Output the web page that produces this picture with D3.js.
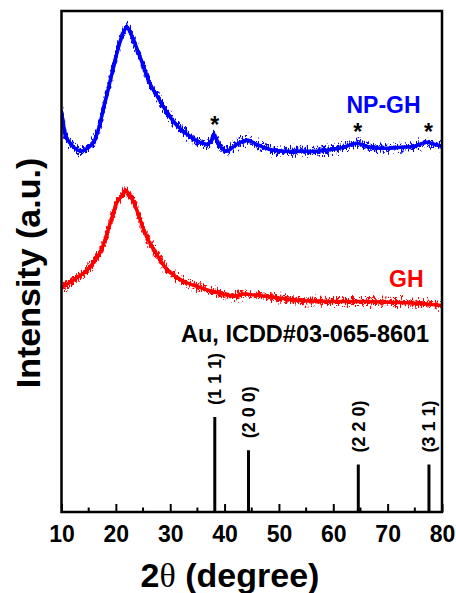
<!DOCTYPE html>
<html>
<head>
<meta charset="utf-8">
<script src="https://cdn.jsdelivr.net/npm/d3@7"></script>
<style>
  body { margin: 0; background: #fff; }
  svg { display: block; }
  text { font-family: "Liberation Sans", Arial, sans-serif; font-weight: bold; }
</style>
</head>
<body>
<div id="chart"></div>
<script>
// XRD patterns (intensity in arbitrary units)
let npghAngle = [10.0, 10.3, 10.6, 11.0, 11.6, 12.5, 13.5, 14.5, 15.4, 15.9, 16.8, 17.7, 18.6, 19.6, 20.4, 21.1, 21.7, 22.1, 22.6, 23.2, 23.9, 24.8, 25.7, 26.6, 27.6, 28.8, 30.0, 31.2, 32.4, 33.6, 34.9, 36.0, 36.8, 37.5, 38.0, 38.5, 39.2, 40.4, 41.5, 42.9, 44.4, 45.5, 47.2, 49.0, 50.8, 54.0, 57.0, 60.0, 61.9, 64.3, 65.5, 66.8, 70.0, 72.3, 75.0, 77.2, 78.5, 80.0]
let npghIntensity = [800, 778, 758, 745, 736, 726, 720, 724, 732, 738, 764, 804, 844, 890, 924, 950, 964, 968, 958, 944, 924, 898, 870, 848, 830, 808, 788, 772, 760, 750, 740, 736, 734, 740, 754, 744, 730, 720, 728, 738, 742, 736, 728, 722, 720, 720, 720, 724, 728, 736, 732, 728, 726, 728, 730, 738, 734, 730]

let ghAngle = [10.0, 11.5, 12.9, 14.2, 15.3, 16.3, 17.2, 18.1, 19.0, 19.6, 20.2, 20.7, 21.2, 21.8, 22.4, 22.9, 23.3, 24.2, 25.1, 26.0, 27.0, 28.2, 29.4, 31.0, 32.5, 35.5, 38.6, 41.7, 43.5, 45.5, 47.8, 50.8, 53.9, 57.0, 60.0, 63.0, 66.2, 69.0, 72.3, 76.0, 80.0]
let ghIntensity = [448, 458, 468, 478, 490, 504, 520, 546, 578, 598, 618, 626, 632, 642, 634, 626, 618, 592, 564, 542, 524, 502, 484, 470, 460, 448, 438, 431, 435, 433, 430, 426, 422, 421, 420, 420, 420, 419, 418, 416, 412]

// Au reference pattern (ICDD#03-065-8601), relative intensity
let auAngle = [38.2, 44.4, 64.6, 77.6]
let auIntensity = [100, 65, 50, 50]
let auLabels = ["(1 1 1)", "(2 0 0)", "(2 2 0)", "(3 1 1)"]

// Au peaks marked on the NP-GH pattern
let starAngle = [38.2, 64.5, 77.5]
let starIntensity = [756, 742, 742]

let xTicks = [10, 20, 30, 40, 50, 60, 70, 80]
let xMinor = [15, 25, 35, 45, 55, 65, 75]

let width = 456
let height = 593
let margin = { left: 61.5, right: 14, top: 11, bottom: 81 }
let plotRight = width - margin.right
let plotBottom = height - margin.bottom

let svg = d3.select("#chart").append("svg")
    .attr("width", width)
    .attr("height", height)

// vertical jitter so the traces look like raw counts
let defs = svg.append("defs")
let addNoise = function (id, seed, freq, amount) {
    let f = defs.append("filter")
        .attr("id", id)
        .attr("x", "-2%").attr("y", "-50%")
        .attr("width", "104%").attr("height", "200%")
    f.append("feTurbulence")
        .attr("type", "fractalNoise")
        .attr("baseFrequency", freq + " 0.2")
        .attr("numOctaves", 2)
        .attr("seed", seed)
        .attr("result", "n")
    f.append("feColorMatrix")
        .attr("in", "n")
        .attr("type", "matrix")
        .attr("values", "1.8 0 0 0 -0.4  0 0 0 0 0.5  0 0 0 0 0.5  0 0 0 0 1")
        .attr("result", "m")
    f.append("feDisplacementMap")
        .attr("in", "SourceGraphic")
        .attr("in2", "m")
        .attr("scale", amount)
        .attr("xChannelSelector", "G")
        .attr("yChannelSelector", "R")
}
addNoise("noiseA", 7, 1.6, 12)
addNoise("noiseB", 23, 2.2, 10)

let x = d3.scaleLinear().domain([10, 80]).range([margin.left, plotRight])
let y = d3.scaleLinear().domain([0, 1000]).range([plotBottom, margin.top])
let yRef = d3.scaleLinear().domain([0, 100]).range([plotBottom, plotBottom - 95])

let line = d3.line()
    .x((d) => x(d[0]))
    .y((d) => y(d[1]))
    .curve(d3.curveCatmullRom)

let series = [
    { pts: d3.zip(npghAngle, npghIntensity), color: "#0000ff" },
    { pts: d3.zip(ghAngle, ghIntensity), color: "#ff0000" }
]

let clip = defs.append("clipPath").attr("id", "plotclip")
clip.append("rect")
    .attr("x", margin.left).attr("y", margin.top)
    .attr("width", plotRight - margin.left).attr("height", plotBottom - margin.top)

let curves = svg.append("g").attr("clip-path", "url(#plotclip)")
series.forEach(function (s) {
    curves.append("path")
        .attr("d", line(s.pts))
        .attr("fill", "none")
        .attr("stroke", s.color)
        .attr("stroke-width", 3.5)
    ;["noiseA", "noiseB"].forEach(function (id) {
        curves.append("path")
            .attr("d", line(s.pts))
            .attr("fill", "none")
            .attr("stroke", s.color)
            .attr("stroke-width", 3)
            .attr("filter", "url(#" + id + ")")
    })
})

// reference sticks
svg.append("g").selectAll("line")
    .data(auAngle)
    .join("line")
    .attr("x1", (d) => x(d))
    .attr("x2", (d) => x(d))
    .attr("y1", plotBottom)
    .attr("y2", (d, i) => yRef(auIntensity[i]))
    .attr("stroke", "#000")
    .attr("stroke-width", 3)

svg.append("g").selectAll("text")
    .data(auLabels)
    .join("text")
    .attr("transform", (d, i) => "translate(" + x(auAngle[i]) + "," + (yRef(auIntensity[i]) - 12) + ") rotate(-90)")
    .attr("dy", "0.36em")
    .attr("font-size", 18)
    .attr("fill", "#000")
    .text((d) => d)

// asterisks
svg.append("g").selectAll("text")
    .data(starAngle)
    .join("text")
    .attr("x", (d) => x(d))
    .attr("y", (d, i) => y(starIntensity[i]))
    .attr("text-anchor", "middle")
    .attr("font-size", 23)
    .text("*")

svg.append("text")
    .attr("x", 346.5).attr("y", 113)
    .attr("font-size", 23)
    .attr("fill", "#0000ff")
    .text("NP-GH")

svg.append("text")
    .attr("x", 389).attr("y", 287)
    .attr("font-size", 23)
    .attr("fill", "#ff0000")
    .text("GH")

svg.append("text")
    .attr("x", 181).attr("y", 342)
    .attr("font-size", 23.5)
    .attr("fill", "#000")
    .text("Au, ICDD#03-065-8601")

// x axis ticks, pointing inward
let axis = d3.axisBottom(x).tickValues(xTicks).tickSize(-8).tickPadding(14)
let gx = svg.append("g")
    .attr("transform", "translate(0," + plotBottom + ")")
    .call(axis)
gx.select(".domain").remove()
gx.selectAll(".tick line").attr("stroke", "#000").attr("stroke-width", 2)
gx.selectAll(".tick text")
    .attr("font-size", 23)
    .attr("font-family", "'Liberation Sans', Arial, sans-serif")
    .attr("font-weight", "bold")
    .attr("fill", "#000")

gx.selectAll(".minor")
    .data(xMinor)
    .join("line")
    .attr("class", "minor")
    .attr("x1", (d) => x(d))
    .attr("x2", (d) => x(d))
    .attr("y1", 0)
    .attr("y2", -4.5)
    .attr("stroke", "#000")
    .attr("stroke-width", 2)

// frame
svg.append("rect")
    .attr("x", margin.left).attr("y", margin.top)
    .attr("width", plotRight - margin.left)
    .attr("height", plotBottom - margin.top)
    .attr("fill", "none")
    .attr("stroke", "#000")
    .attr("stroke-width", 2.5)

let title = svg.append("text")
    .attr("x", 230).attr("y", 587)
    .attr("text-anchor", "middle")
    .attr("font-size", 34)
title.append("tspan").text("2")
title.append("tspan")
    .attr("font-family", "'Liberation Serif', 'Times New Roman', serif")
    .attr("font-weight", "normal")
    .text("θ")
title.append("tspan").text(" (degree)")

svg.append("text")
    .attr("transform", "translate(40,273) rotate(-90)")
    .attr("text-anchor", "middle")
    .attr("font-size", 34)
    .text("Intensity (a.u.)")
</script>
</body>
</html>
